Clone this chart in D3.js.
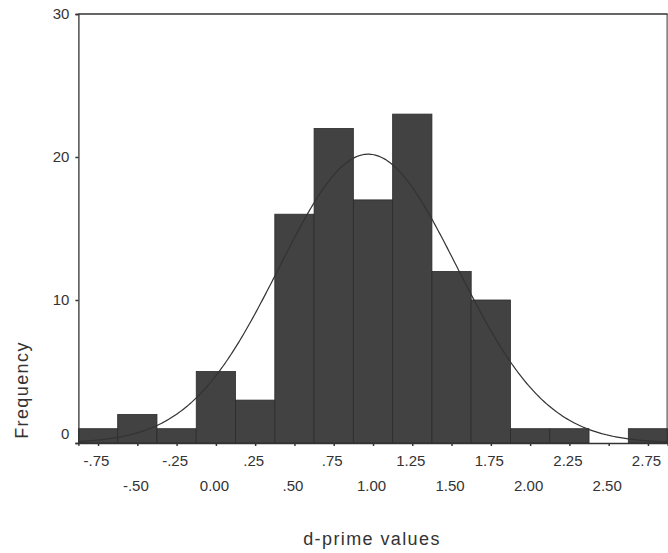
<!DOCTYPE html>
<html>
<head>
<meta charset="utf-8">
<script src="https://cdn.jsdelivr.net/npm/d3@7"></script>
<style>
  body { margin: 0; background: #fff; }
  text { font-family: "Liberation Sans", Arial, sans-serif; fill: #333; }
</style>
</head>
<body>
<div id="chart"></div>
<script>
// bin centres (width .25) and counts
var binCenters = [-0.75, -0.5, -0.25, 0, 0.25, 0.5, 0.75, 1.0, 1.25, 1.5, 1.75, 2.0, 2.25, 2.5, 2.75];
var counts     = [1, 2, 1, 5, 3, 16, 22, 17, 23, 12, 10, 1, 1, 0, 1];
var tickLabels = ["-.75", "-.50", "-.25", "0.00", ".25", ".50", ".75", "1.00", "1.25", "1.50", "1.75", "2.00", "2.25", "2.50", "2.75"];
var yTicks = [0, 10, 20, 30];
var binWidth = 0.25;

var width = 668, height = 553;
var svg = d3.select("#chart").append("svg")
    .attr("width", width)
    .attr("height", height);

var x = d3.scaleLinear()
    .domain([-0.875, 2.875])
    .range([78.4, 667.6]);

var y = d3.scaleLinear()
    .domain([0, 30])
    .range([443, 14]);

var bins = binCenters.map(function(c, i) { return {center: c, count: counts[i]}; })
                     .filter(function(d) { return d.count > 0; });

// bars
svg.append("g")
   .selectAll("rect")
   .data(bins)
   .enter().append("rect")
   .attr("x", function(d) { return x(d.center - binWidth / 2); })
   .attr("width", function(d) { return x(d.center + binWidth / 2) - x(d.center - binWidth / 2); })
   .attr("y", function(d) { return y(d.count); })
   .attr("height", function(d) { return y(0) - y(d.count); })
   .attr("fill", "#424242")
   .attr("stroke", "#2b2b2b")
   .attr("stroke-width", 0.8);

// normal curve fitted to the binned data (mean / sd of the histogram)
var n = d3.sum(counts);
var mean = d3.sum(binCenters, function(d, i) { return d * counts[i]; }) / n;
var sd = Math.sqrt(d3.sum(binCenters, function(d, i) { return counts[i] * (d - mean) * (d - mean); }) / (n - 1));
var curveX = d3.range(-0.875, 2.876, 0.01);
var line = d3.line()
    .x(function(d) { return x(d); })
    .y(function(d) {
        var z = (d - mean) / sd;
        return y(n * binWidth * Math.exp(-z * z / 2) / (sd * Math.sqrt(2 * Math.PI)));
    });

svg.append("path")
   .datum(curveX)
   .attr("d", line)
   .attr("fill", "none")
   .attr("stroke", "#333")
   .attr("stroke-width", 1.2);

// frame
svg.append("line").attr("x1", x(-0.875)).attr("x2", x(2.875)).attr("y1", y(30)).attr("y2", y(30))
   .attr("stroke", "#333").attr("stroke-width", 1.3);
svg.append("line").attr("x1", x(2.875) - 0.5).attr("x2", x(2.875) - 0.5).attr("y1", y(30)).attr("y2", y(0))
   .attr("stroke", "#333").attr("stroke-width", 1);

// axes
var xAxis = svg.append("g")
   .attr("transform", "translate(0," + y(0) + ")")
   .call(d3.axisBottom(x)
        .tickValues(binCenters)
        .tickSize(3)
        .tickPadding(9)
        .tickFormat(function(d, i) { return tickLabels[i]; }));

xAxis.select(".domain").attr("stroke", "#333").attr("stroke-width", 1.3);
xAxis.selectAll(".tick line").attr("stroke", "#333").attr("stroke-width", 1.5);
xAxis.selectAll(".tick text")
     .attr("dy", function(d, i) { return i % 2 === 0 ? "0.71em" : "2.38em"; })
     .attr("dx", -2)
     .style("font-size", "15px")
     .style("font-family", "'Liberation Sans', Arial, sans-serif")
     .attr("fill", "#333");

var yAxis = svg.append("g")
   .attr("transform", "translate(" + x(-0.875) + ",0)")
   .call(d3.axisLeft(y)
        .tickValues(yTicks)
        .tickSize(3)
        .tickPadding(6));

yAxis.select(".domain").attr("stroke", "#333").attr("stroke-width", 1.3);
yAxis.selectAll(".tick line").attr("stroke", "#333").attr("stroke-width", 1.5);
yAxis.selectAll(".tick text")
     .attr("dy", function(d) { return d === 0 ? "-0.3em" : "0.32em"; })
     .style("font-size", "15px")
     .style("font-family", "'Liberation Sans', Arial, sans-serif")
     .attr("fill", "#333");

// titles
svg.append("text")
   .attr("x", 372)
   .attr("y", 545)
   .attr("text-anchor", "middle")
   .style("font-size", "18px")
   .style("letter-spacing", "1.4px")
   .text("d-prime values");

svg.append("text")
   .attr("transform", "translate(28,390) rotate(-90)")
   .attr("text-anchor", "middle")
   .style("font-size", "18px")
   .style("letter-spacing", "1.4px")
   .text("Frequency");
</script>
</body>
</html>
